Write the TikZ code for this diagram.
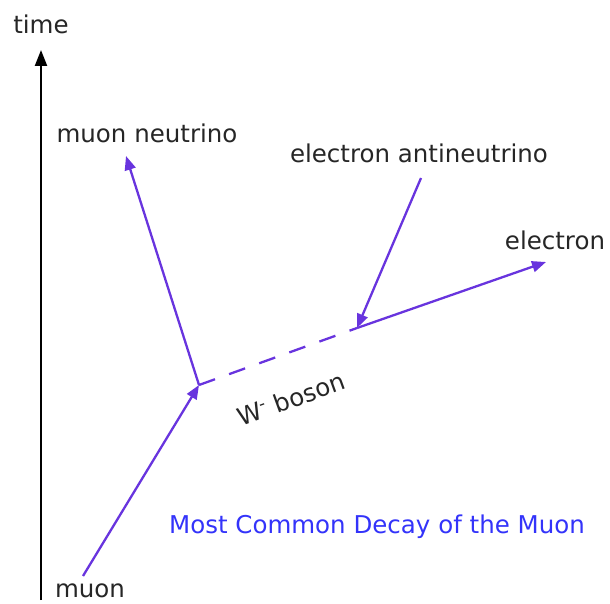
\documentclass[tikz,border=0pt]{standalone}
\usepackage{fontspec}
\setmainfont{DejaVu Sans}
\usetikzlibrary{arrows.meta}
\definecolor{pline}{RGB}{104,52,222}
\definecolor{ttext}{RGB}{51,51,250}
\definecolor{ltext}{RGB}{38,38,38}
\begin{document}
\begin{tikzpicture}[x=1pt,y=-1pt,
  lbl/.style={inner sep=0pt, font=\fontsize{24.5}{28}\selectfont, text=ltext},
  title/.style={inner sep=0pt, font=\fontsize{24.5}{28}\selectfont, text=ttext},
  particle/.style={draw=pline, line width=2.3pt, -{Triangle[length=14pt,width=11pt]}},
  virtual/.style={draw=pline, line width=2.3pt, dash pattern=on 17pt off 15pt},
  axis/.style={draw=black, line width=2.2pt, -{Triangle[length=16pt,width=12pt]}}]
\path[use as bounding box] (0,0) rectangle (610,604);
% vertices
\coordinate (tbot) at (41,600);
\coordinate (ttop) at (41,50);
\coordinate (mstart) at (83,576);
\coordinate (v) at (199,385);
\coordinate (nutip) at (126,156);
\coordinate (e) at (357,328);
\coordinate (etip) at (546,262);
\coordinate (abar) at (421,178);
% labels
\node[lbl] (time) at (41,24) {time};
\node[lbl] (numu) at (147,133) {muon neutrino};
\node[lbl] (anue) at (419,153) {electron antineutrino};
\node[lbl] (elec) at (555,240) {electron};
\node[lbl, rotate=20] (wb) at (291,399) {W\textsuperscript{-} boson};
\node[lbl] (muon) at (90,591) {muon};
\node[title] (ttl) at (377,527) {Most Common Decay of the Muon};
% connectors
\draw[axis] (tbot) -- (ttop);
\draw[particle] (mstart) -- (v);
\draw[particle] (v) -- (nutip);
\draw[virtual] (v) -- (e);
\draw[particle] (e) -- (etip);
\draw[particle] (abar) -- (e);
\end{tikzpicture}
\end{document}
